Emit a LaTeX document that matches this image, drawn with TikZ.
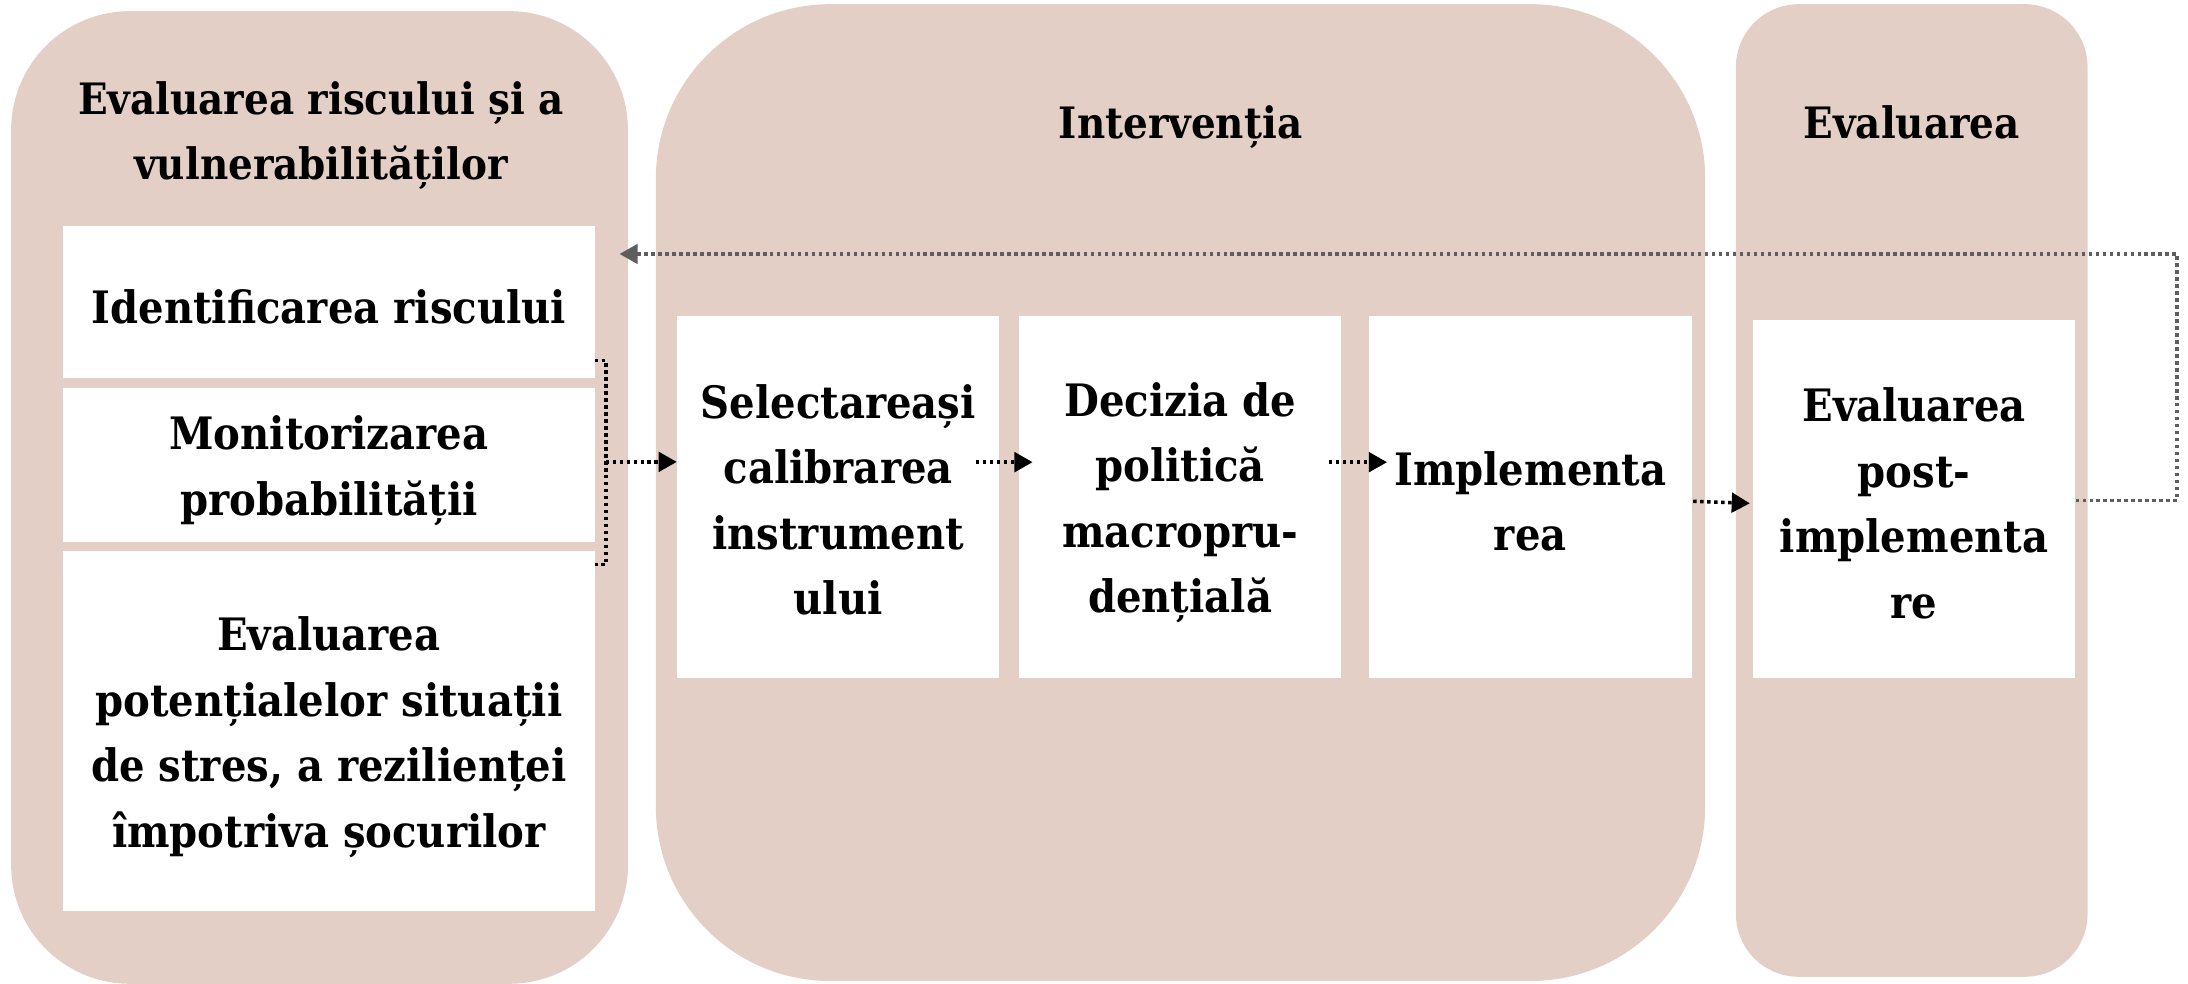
\documentclass[tikz,border=0pt]{standalone}
\usepackage{fontspec}
\setmainfont{DejaVu Serif Condensed}
\usetikzlibrary{arrows.meta,calc}
\definecolor{panelpink}{HTML}{E3CFC6}
\definecolor{fbgray}{HTML}{5E5E5E}
\tikzset{
  panel/.style={fill=panelpink,draw=none},
  wbox/.style={fill=white,draw=none,anchor=north west,inner sep=0pt},
  btxt/.style={align=center,inner sep=0pt,font=\fontsize{32}{47}\selectfont\bfseries},
  htitle/.style={align=center,font=\fontsize{31}{47}\selectfont\bfseries},
  arr/.style={line width=2.5pt,dash pattern=on 2.5pt off 2.5pt,
    -{Triangle[length=13pt,width=14pt]}},
  brk/.style={line width=2.5pt,dash pattern=on 2.5pt off 2.5pt},
  fb/.style={line width=2.5pt,dash pattern=on 2.5pt off 2.5pt,color=fbgray,
    -{Triangle[length=13pt,width=14pt]}}
}
\begin{document}
\begin{tikzpicture}[x=1pt,y=-1pt]
\useasboundingbox (0,0) rectangle (1568,705);
% panels
\path[panel,rounded corners=85pt] (8,8) rectangle (450,705);
\path[panel,rounded corners=125pt] (470,3) rectangle (1222,703);
\path[panel,rounded corners=45pt] (1244,3) rectangle (1496,700);
% titles
\node[htitle] (t1) at (230,97) {Evaluarea riscului și a\\vulnerabilităților};
\node[htitle] (t2) at (846,91) {Intervenția};
\node[htitle] (t3) at (1370,88) {Evaluarea};
% left boxes
\node[wbox,minimum width=381pt,minimum height=109pt] (idr) at (45,162) {};
\node[wbox,minimum width=381pt,minimum height=110pt] (mon) at (45,278) {};
\node[wbox,minimum width=381pt,minimum height=258pt] (evp) at (45,395) {};
% middle boxes
\node[wbox,minimum width=231pt,minimum height=260pt] (sel) at (485,226) {};
\node[wbox,minimum width=231pt,minimum height=260pt] (dec) at (730,226) {};
\node[wbox,minimum width=231pt,minimum height=260pt] (imp) at (981,226) {};
% right box
\node[wbox,minimum width=231pt,minimum height=257pt] (epi) at (1256,229) {};
% box texts
\node[btxt] (idrt) at ([yshift=-3pt]idr.center) {Identificarea riscului};
\node[btxt] (mont) at ([yshift=-4pt]mon.center) {Monitorizarea\\probabilității};
\node[btxt] (evpt) at ([yshift=-4pt]evp.center) {Evaluarea\\potențialelor situații\\de stres, a rezilienței\\împotriva șocurilor};
\node[btxt] (selt) at ([yshift=-2pt]sel.center) {Selectareași\\calibrarea\\instrument\\ului};
\node[btxt] (dect) at ([yshift=-4pt]dec.center) {Decizia de\\politică\\macropru-\\dențială};
\node[btxt] (impt) at ([yshift=-3pt]imp.center) {Implementa\\rea};
\node[btxt] (epit) at ([yshift=-3pt]epi.center) {Evaluarea\\post-\\implementa\\re};
% bracket
\coordinate (bt) at ([yshift=13pt]idr.south east);
\coordinate (bb) at ([yshift=-133pt]idr.south east);
\coordinate (bm) at (434,331);
\draw[brk] (bt) -- ++(8,0) |- (bb);
\draw[arr] (bm) -- (bm -| sel.west);
% arrows between steps
\draw[arr] ([xshift=-17pt,yshift=25pt]sel.east) -- ([xshift=10pt,yshift=25pt]dec.west);
\draw[arr] ([xshift=-9pt,yshift=25pt]dec.east) -- ([xshift=13pt,yshift=25pt]imp.west);
\draw[arr] ([xshift=1pt,yshift=-3pt]imp.east) -- ([xshift=-2pt,yshift=-3pt]epi.west);
% feedback
\coordinate (fbend) at (444,182);
\draw[fb] ([yshift=-1pt]epi.east) -| (1560,182) -- (fbend);
\end{tikzpicture}
\end{document}
